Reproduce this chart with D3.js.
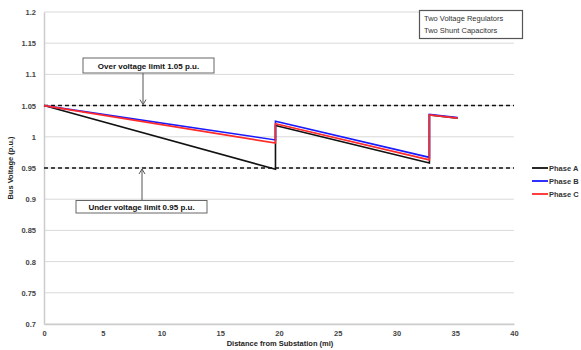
<!DOCTYPE html>
<html>
<head>
<meta charset="utf-8">
<script src="https://cdn.jsdelivr.net/npm/d3@7"></script>
<style>
  body { margin: 0; background: #fff; }
  text { font-family: "Liberation Sans", Arial, sans-serif; }
</style>
</head>
<body>
<div id="wrap"></div>
<script>
// data
var distance = [0, 19.7, 19.7, 32.8, 32.8, 35.2];
var phaseA = [1.05, 0.948, 1.018, 0.958, 1.035, 1.030];
var phaseB = [1.05, 0.995, 1.025, 0.967, 1.036, 1.031];
var phaseC = [1.05, 0.990, 1.021, 0.963, 1.035, 1.030];
var seriesNames = ['Phase A', 'Phase B', 'Phase C'];
var seriesColors = ['#111', '#1a1aff', '#ff2a2a'];
var yTicks = [0.7, 0.75, 0.8, 0.85, 0.9, 0.95, 1, 1.05, 1.1, 1.15, 1.2];
var xTicks = [0, 5, 10, 15, 20, 25, 30, 35, 40];
var limits = [1.05, 0.95];

var W = 581, H = 350;
var margin = {top: 12, left: 44, right: 67, bottom: 26},
    width = W - margin.left - margin.right,
    height = H - margin.top - margin.bottom;

var svg = d3.select('#wrap').append('svg')
    .attr('width', W)
    .attr('height', H);

var g = svg.append('g')
    .attr('transform', 'translate(' + margin.left + ',' + margin.top + ')');

var x = d3.scaleLinear().domain([0, 40]).range([0, width]),
    y = d3.scaleLinear().domain([0.7, 1.2]).range([height, 0]);

// gridlines
g.selectAll('.grid')
  .data(yTicks)
  .enter().append('line')
    .attr('x1', 0).attr('x2', width)
    .attr('y1', function(d){return y(d);})
    .attr('y2', function(d){return y(d);})
    .attr('stroke', '#d9d9d9')
    .attr('stroke-width', 1);

// axes
var yAxis = g.append('g')
  .call(d3.axisLeft(y).tickValues(yTicks).tickSize(0).tickPadding(8)
    .tickFormat(function(d){return d3.format('')(+d.toFixed(2));}));
yAxis.select('.domain').attr('stroke', '#ccc').attr('stroke-width', 1.5);
yAxis.selectAll('text').attr('font-size', 7.5).attr('font-weight', 'bold').attr('fill', '#444');

var xAxis = g.append('g')
  .attr('transform', 'translate(0,' + height + ')')
  .call(d3.axisBottom(x).tickValues(xTicks).tickSize(0).tickPadding(7));
xAxis.select('.domain').attr('stroke', '#ccc').attr('stroke-width', 1.5);
xAxis.selectAll('text').attr('font-size', 7.5).attr('font-weight', 'bold').attr('fill', '#444');

// axis titles
svg.append('text')
  .attr('transform', 'translate(13,' + (margin.top + height / 2) + ') rotate(-90)')
  .attr('text-anchor', 'middle')
  .attr('font-size', 7.5).attr('font-weight', 'bold').attr('fill', '#222')
  .text('Bus Voltage (p.u.)');

svg.append('text')
  .attr('x', 280).attr('y', 346)
  .attr('text-anchor', 'middle')
  .attr('font-size', 7.5).attr('font-weight', 'bold').attr('fill', '#222')
  .text('Distance from Substation (mi)');

// limit lines
g.selectAll('.limit')
  .data(limits)
  .enter().append('line')
    .attr('x1', 0).attr('x2', width)
    .attr('y1', function(d){return y(d);})
    .attr('y2', function(d){return y(d);})
    .attr('stroke', '#111')
    .attr('stroke-width', 1.5)
    .attr('stroke-dasharray', '4,3');

// series
var line = d3.line()
  .x(function(d){return x(d[0]);})
  .y(function(d){return y(d[1]);});

[phaseA, phaseB, phaseC].forEach(function(vals, k) {
  g.append('path')
    .datum(distance.map(function(dd, i){return [dd, vals[i]];}))
    .attr('fill', 'none')
    .attr('stroke', seriesColors[k])
    .attr('stroke-width', 1.6)
    .attr('d', line);
});

// annotation boxes with arrows
function note(label, bx, by, bw, bh, ax, ay) {
  svg.append('line')
    .attr('x1', ax).attr('x2', ax)
    .attr('y1', by > ay ? by : by + bh)
    .attr('y2', ay)
    .attr('stroke', '#555').attr('stroke-width', 1);
  var dir = by > ay ? 1 : -1;
  svg.append('path')
    .attr('d', 'M' + (ax - 3) + ',' + (ay + dir * 5) + 'L' + ax + ',' + ay + 'L' + (ax + 3) + ',' + (ay + dir * 5))
    .attr('fill', 'none').attr('stroke', '#555').attr('stroke-width', 1);
  svg.append('rect')
    .attr('x', bx).attr('y', by).attr('width', bw).attr('height', bh)
    .attr('fill', '#fff').attr('stroke', '#666').attr('stroke-width', 1);
  svg.append('text')
    .attr('x', bx + bw / 2).attr('y', by + bh / 2 + 3)
    .attr('text-anchor', 'middle')
    .attr('font-size', 8).attr('font-weight', 'bold').attr('fill', '#111')
    .text(label);
}
note('Over voltage limit 1.05 p.u.', 83, 58, 131, 15, 143, y(1.05) + margin.top - 1);
note('Under voltage limit 0.95 p.u.', 76, 200.5, 131, 12.5, 142, y(0.95) + margin.top + 1);

// info box
svg.append('rect')
  .attr('x', 419.5).attr('y', 10.5).attr('width', 103).attr('height', 28)
  .attr('fill', '#fff').attr('stroke', '#555').attr('stroke-width', 1.2);
svg.append('text').attr('x', 424).attr('y', 21)
  .attr('font-size', 7.5).attr('fill', '#333').text('Two Voltage Regulators');
svg.append('text').attr('x', 424).attr('y', 33)
  .attr('font-size', 7.5).attr('fill', '#333').text('Two Shunt Capacitors');

// legend
var leg = svg.append('g').attr('transform', 'translate(532,168)');
seriesNames.forEach(function(n, k) {
  leg.append('line')
    .attr('x1', 0).attr('x2', 16)
    .attr('y1', k * 13).attr('y2', k * 13)
    .attr('stroke', seriesColors[k]).attr('stroke-width', 1.8);
  leg.append('text')
    .attr('x', 17).attr('y', k * 13 + 2.7)
    .attr('font-size', 7.5).attr('font-weight', 'bold').attr('fill', '#333')
    .text(n);
});
</script>
</body>
</html>
